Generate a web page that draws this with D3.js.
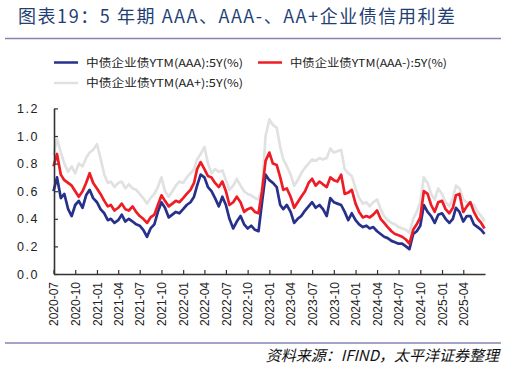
<!DOCTYPE html>
<html>
<head>
<meta charset="utf-8">
<script src="https://cdn.jsdelivr.net/npm/d3@7"></script>
<style>
  body { margin: 0; background: #fff; }
  svg { display: block; }
</style>
</head>
<body>
<script>
const w = 507;
const h = 369;

// semi-monthly sample dates
const dates = [
  "2020-07-01","2020-07-16","2020-08-01","2020-08-16","2020-09-01","2020-09-16","2020-10-01","2020-10-16","2020-11-01","2020-11-16","2020-12-01","2020-12-16",
  "2021-01-01","2021-01-16","2021-02-01","2021-02-16","2021-03-01","2021-03-16","2021-04-01","2021-04-16","2021-05-01","2021-05-16","2021-06-01","2021-06-16",
  "2021-07-01","2021-07-16","2021-08-01","2021-08-16","2021-09-01","2021-09-16","2021-10-01","2021-10-16","2021-11-01","2021-11-16","2021-12-01","2021-12-16",
  "2022-01-01","2022-01-16","2022-02-01","2022-02-16","2022-03-01","2022-03-16","2022-04-01","2022-04-16","2022-05-01","2022-05-16","2022-06-01","2022-06-16",
  "2022-07-01","2022-07-16","2022-08-01","2022-08-16","2022-09-01","2022-09-16","2022-10-01","2022-10-16","2022-11-01","2022-11-16","2022-12-01","2022-12-16",
  "2023-01-01","2023-01-16","2023-02-01","2023-02-16","2023-03-01","2023-03-16","2023-04-01","2023-04-16","2023-05-01","2023-05-16","2023-06-01","2023-06-16",
  "2023-07-01","2023-07-16","2023-08-01","2023-08-16","2023-09-01","2023-09-16","2023-10-01","2023-10-16","2023-11-01","2023-11-16","2023-12-01","2023-12-16",
  "2024-01-01","2024-01-16","2024-02-01","2024-02-16","2024-03-01","2024-03-16","2024-04-01","2024-04-16","2024-05-01","2024-05-16","2024-06-01","2024-06-16",
  "2024-07-01","2024-07-16","2024-08-01","2024-08-16","2024-09-01","2024-09-16","2024-10-01","2024-10-16","2024-11-01","2024-11-16","2024-12-01","2024-12-16",
  "2025-01-01","2025-01-16","2025-02-01","2025-02-16","2025-03-01","2025-03-16","2025-04-01","2025-04-16","2025-05-01","2025-05-16","2025-06-01","2025-06-16",
  "2025-06-30"
];

const aaa = [
  0.60,0.70,0.55,0.58,0.47,0.42,0.50,0.53,0.48,0.57,0.61,0.55,
  0.52,0.47,0.44,0.39,0.40,0.37,0.39,0.43,0.38,0.40,0.38,0.36,
  0.35,0.32,0.27,0.33,0.36,0.45,0.52,0.48,0.41,0.43,0.45,0.44,
  0.47,0.50,0.52,0.56,0.64,0.72,0.70,0.63,0.60,0.55,0.49,0.56,
  0.50,0.40,0.33,0.38,0.42,0.36,0.33,0.35,0.32,0.31,0.52,0.72,
  0.68,0.66,0.63,0.50,0.47,0.50,0.45,0.37,0.40,0.42,0.46,0.49,
  0.52,0.48,0.50,0.47,0.42,0.55,0.52,0.51,0.50,0.45,0.39,0.44,
  0.39,0.36,0.34,0.35,0.33,0.34,0.31,0.29,0.27,0.26,0.24,0.23,
  0.22,0.22,0.20,0.18,0.29,0.31,0.35,0.50,0.45,0.42,0.37,0.43,
  0.44,0.40,0.37,0.40,0.48,0.45,0.38,0.42,0.42,0.36,0.34,0.32,
  0.29
];

const aaaMinus = [
  0.78,0.87,0.72,0.68,0.66,0.64,0.60,0.56,0.60,0.66,0.73,0.66,
  0.62,0.58,0.53,0.49,0.50,0.46,0.48,0.51,0.47,0.46,0.49,0.45,
  0.42,0.40,0.37,0.41,0.43,0.50,0.57,0.53,0.49,0.51,0.53,0.52,
  0.55,0.58,0.61,0.66,0.76,0.81,0.76,0.71,0.70,0.66,0.63,0.67,
  0.60,0.50,0.52,0.56,0.52,0.45,0.47,0.48,0.45,0.44,0.60,0.82,
  0.88,0.80,0.79,0.70,0.61,0.62,0.56,0.48,0.52,0.56,0.60,0.66,
  0.69,0.64,0.67,0.65,0.63,0.70,0.68,0.67,0.72,0.58,0.59,0.61,
  0.51,0.45,0.41,0.42,0.41,0.43,0.46,0.40,0.37,0.34,0.31,0.29,
  0.28,0.27,0.25,0.22,0.32,0.36,0.41,0.60,0.58,0.50,0.45,0.52,
  0.53,0.47,0.44,0.48,0.57,0.58,0.45,0.49,0.52,0.45,0.40,0.37,
  0.33
];

const aaPlus = [
  0.86,0.98,0.88,0.80,0.74,0.78,0.73,0.80,0.78,0.84,0.88,0.90,
  0.94,0.84,0.72,0.66,0.67,0.63,0.66,0.67,0.62,0.65,0.62,0.61,
  0.58,0.55,0.51,0.55,0.58,0.63,0.70,0.60,0.56,0.60,0.64,0.67,
  0.66,0.70,0.73,0.76,0.83,0.87,0.92,0.80,0.73,0.76,0.74,0.75,
  0.68,0.61,0.64,0.69,0.64,0.60,0.58,0.57,0.55,0.54,0.62,1.00,
  1.12,1.08,1.06,0.92,0.83,0.78,0.72,0.64,0.68,0.73,0.77,0.80,
  0.83,0.82,0.84,0.83,0.84,0.91,0.88,0.89,0.90,0.76,0.73,0.71,
  0.62,0.55,0.51,0.52,0.49,0.52,0.54,0.47,0.42,0.39,0.37,0.36,
  0.34,0.33,0.32,0.30,0.40,0.45,0.52,0.70,0.66,0.58,0.54,0.62,
  0.58,0.52,0.49,0.55,0.64,0.62,0.54,0.52,0.51,0.50,0.45,0.42,
  0.38
];

const xTicks = [
  "2020-07","2020-10","2021-01","2021-04","2021-07","2021-10","2022-01","2022-04","2022-07","2022-10",
  "2023-01","2023-04","2023-07","2023-10","2024-01","2024-04","2024-07","2024-10","2025-01","2025-04"
];
const yTicks = [0, 0.2, 0.4, 0.6, 0.8, 1.0, 1.2];

const seriesNames = ["中债企业债YTM(AAA):5Y(%)", "中债企业债YTM(AAA-):5Y(%)", "中债企业债YTM(AA+):5Y(%)"];
const seriesColors = ["#27318B", "#EE1C25", "#E1E1E1"];

const parseDay = d3.timeParse("%Y-%m-%d");
const parseMonth = d3.timeParse("%Y-%m");
const cjk = "'Noto Sans CJK SC', sans-serif";
const latin = "'Liberation Sans', Arial, sans-serif";

const svg = d3.select("body")
  .append("svg")
  .attr("width", w)
  .attr("height", h);

// title
svg.append("text")
  .attr("x", 18)
  .attr("y", 23)
  .attr("fill", "#1F3F75")
  .attr("font-family", cjk)
  .attr("font-size", 18)
  .attr("textLength", 437)
  .attr("lengthAdjust", "spacing")
  .text("图表19：5 年期 AAA、AAA-、AA+企业债信用利差");

svg.append("line")
  .attr("x1", 5).attr("x2", 501)
  .attr("y1", 38.5).attr("y2", 38.5)
  .attr("stroke", "#8585B5")
  .attr("stroke-width", 1.5);

// legend
const legendPos = [[54, 62.5], [258, 62.5], [54, 83]];
legendPos.forEach((p, i) => {
  svg.append("line")
    .attr("x1", p[0]).attr("x2", p[0] + 24)
    .attr("y1", p[1]).attr("y2", p[1])
    .attr("stroke", seriesColors[i])
    .attr("stroke-width", 2.5);
  svg.append("text")
    .attr("x", p[0] + 32)
    .attr("y", p[1] + 4)
    .attr("fill", "#222")
    .attr("font-family", cjk)
    .attr("font-size", 11)
    .attr("textLength", 157)
    .attr("lengthAdjust", "spacingAndGlyphs")
    .text(seriesNames[i]);
});

const xScale = d3.scaleTime()
  .domain([parseDay("2020-07-01"), parseDay("2025-07-02")])
  .range([53.5, 485]);

const yScale = d3.scaleLinear()
  .domain([0, 1.2])
  .range([274, 108.4]);

const line = d3.line()
  .x((d) => xScale(d[0]))
  .y((d) => yScale(d[1]));

const drawOrder = [[aaPlus, 2], [aaa, 0], [aaaMinus, 1]];
drawOrder.forEach((s) => {
  svg.append("path")
    .datum(dates.map((d, i) => [parseDay(d), s[0][i]]))
    .attr("fill", "none")
    .attr("stroke", seriesColors[s[1]])
    .attr("stroke-width", 2.7)
    .attr("stroke-linejoin", "round")
    .attr("d", line);
});

// axes
const xAxis = d3.axisBottom(xScale)
  .tickValues(xTicks.map(parseMonth))
  .tickFormat(d3.timeFormat("%Y-%m"))
  .tickSizeInner(-4)
  .tickSizeOuter(0);

const gx = svg.append("g")
  .attr("transform", "translate(0,274)")
  .call(xAxis);
gx.select(".domain").attr("stroke", "#333").attr("stroke-width", 1.6);
gx.selectAll(".tick line").attr("stroke", "#333").attr("stroke-width", 1.2);
gx.selectAll(".tick text")
  .attr("font-family", latin)
  .attr("font-size", 12)
  .attr("fill", "#222")
  .attr("transform", "rotate(-90)")
  .attr("text-anchor", "end")
  .attr("x", -8)
  .attr("y", 0)
  .attr("dy", "0.35em");

const yAxis = d3.axisLeft(yScale)
  .tickValues(yTicks)
  .tickFormat(d3.format(".1f"))
  .tickSizeInner(-4)
  .tickSizeOuter(0);

const gy = svg.append("g")
  .attr("transform", "translate(54,0)")
  .call(yAxis);
gy.select(".domain").attr("stroke", "#333").attr("stroke-width", 1.6);
gy.selectAll(".tick line").attr("stroke", "#333").attr("stroke-width", 1.2);
gy.selectAll(".tick text")
  .attr("font-family", latin)
  .attr("font-size", 12.5)
  .attr("fill", "#222")
  .attr("x", -15)
  .style("letter-spacing", "1.5px");

// footer
svg.append("line")
  .attr("x1", 5).attr("x2", 501)
  .attr("y1", 343).attr("y2", 343)
  .attr("stroke", "#8585B5")
  .attr("stroke-width", 1.5);

svg.append("text")
  .attr("x", 499)
  .attr("y", 361)
  .attr("text-anchor", "end")
  .attr("fill", "#111")
  .attr("font-family", cjk)
  .attr("font-size", 15)
  .attr("font-style", "italic")
  .text("资料来源：IFIND，太平洋证券整理");
</script>
</body>
</html>
